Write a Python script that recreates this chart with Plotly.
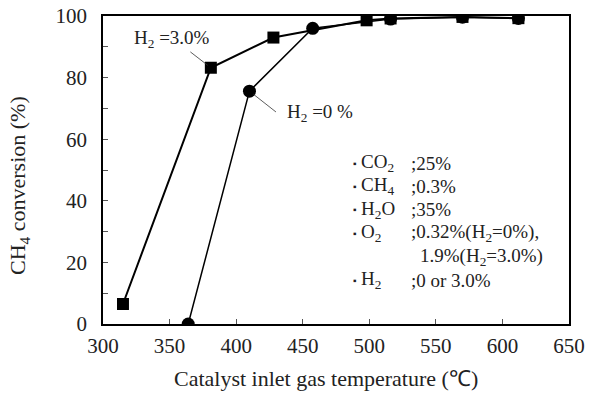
import plotly.graph_objects as go

# H2 = 3.0 % series (squares)
t_h2_3 = [315, 381, 428, 498, 516, 570, 612]
conv_h2_3 = [6.5, 83.2, 93.0, 98.6, 99.2, 99.7, 99.3]
# H2 = 0 % series (circles)
t_h2_0 = [364, 410, 457.5, 516, 570, 612]
conv_h2_0 = [0.0, 75.6, 96.0, 99.0, 99.6, 99.2]

x_ticks = [300, 350, 400, 450, 500, 550, 600, 650]
y_ticks = [0, 20, 40, 60, 80, 100]

cond_left = ["CO<sub>2</sub>", "CH<sub>4</sub>", "H<sub>2</sub>O", "O<sub>2</sub>", "", "H<sub>2</sub>"]
cond_right = [";25%", ";0.3%", ";35%", ";0.32%(H<sub>2</sub>=0%),", "1.9%(H<sub>2</sub>=3.0%)", ";0 or 3.0%"]

FONT = "Liberation Serif"
COL = "#222"
L, R, T, B = 103, 21, 16, 70
PW, PH = 590 - L - R, 394 - T - B


def px(x):
    return (x - L) / PW


def py(y):
    return 1 - (y - T) / PH


fig = go.Figure()
fig.add_trace(go.Scatter(x=t_h2_3, y=conv_h2_3, mode="lines+markers",
                         line=dict(color="black", width=2),
                         marker=dict(symbol="square", size=12, color="black"),
                         showlegend=False))
fig.add_trace(go.Scatter(x=t_h2_0, y=conv_h2_0, mode="lines+markers",
                         line=dict(color="black", width=1.5),
                         marker=dict(symbol="circle", size=13, color="black"),
                         showlegend=False))

# series labels with leader lines
fig.add_annotation(x=381, y=83.2, ax=-22, ay=-17, axref="pixel", ayref="pixel",
                   text="", showarrow=True, arrowhead=0, arrowwidth=0.8,
                   arrowcolor="#333", standoff=4)
fig.add_annotation(xref="paper", yref="paper", x=px(132), y=py(39),
                   text="H<sub>2</sub> =3.0%", showarrow=False, xanchor="left", yanchor="middle",
                   font=dict(family=FONT, size=19, color=COL))
fig.add_annotation(x=410, y=75.6, ax=28, ay=22, axref="pixel", ayref="pixel",
                   text="", showarrow=True, arrowhead=0, arrowwidth=0.8,
                   arrowcolor="#333", standoff=5)
fig.add_annotation(xref="paper", yref="paper", x=px(285), y=py(113),
                   text="H<sub>2</sub> =0 %", showarrow=False, xanchor="left", yanchor="middle",
                   font=dict(family=FONT, size=19, color=COL))

# condition block
y0 = 163
for i, (a, b) in enumerate(zip(cond_left, cond_right)):
    yy = y0 + i * 23.4
    if a:
        fig.add_annotation(xref="paper", yref="paper", x=px(351), y=py(yy),
                           text="▪", showarrow=False, xanchor="left", yanchor="middle",
                           font=dict(family=FONT, size=10, color=COL))
        fig.add_annotation(xref="paper", yref="paper", x=px(359), y=py(yy),
                           text=a, showarrow=False, xanchor="left", yanchor="middle",
                           font=dict(family=FONT, size=19, color=COL))
    fig.add_annotation(xref="paper", yref="paper", x=px(409 if b.startswith(";") else 418), y=py(yy),
                       text=b, showarrow=False, xanchor="left", yanchor="middle",
                       font=dict(family=FONT, size=19, color=COL))

# axis titles
fig.add_annotation(xref="paper", yref="paper", x=px(326), y=py(378),
                   text="Catalyst inlet gas temperature (℃)", showarrow=False,
                   xanchor="center", yanchor="middle",
                   font=dict(family=FONT, size=22, color=COL))
fig.add_annotation(xref="paper", yref="paper", x=px(19), y=py(186),
                   text="CH<sub>4</sub> conversion (%)", showarrow=False, textangle=-90,
                   xanchor="center", yanchor="middle",
                   font=dict(family=FONT, size=22, color=COL))

fig.update_layout(
    template="none",
    width=590, height=394,
    margin=dict(l=L, r=R, t=T, b=B, autoexpand=False),
    paper_bgcolor="white", plot_bgcolor="white",
    font=dict(family=FONT, size=21, color=COL),
)
fig.update_xaxes(range=[300, 650], tickvals=x_ticks, ticks="inside", ticklen=5,
                 tickcolor="#555", ticklabelstandoff=2, automargin=False,
                 showline=True, linecolor="black", linewidth=1.5, mirror=True,
                 showgrid=False, zeroline=False)
fig.update_yaxes(range=[0, 100], tickvals=y_ticks, ticks="inside", ticklen=5,
                 tickcolor="#555", ticklabelstandoff=10, automargin=False,
                 minor=dict(dtick=10, ticks="inside", ticklen=5, tickcolor="#555"),
                 showline=True, linecolor="black", linewidth=1.5, mirror=True,
                 showgrid=False, zeroline=False)

fig.write_html("out.html")
